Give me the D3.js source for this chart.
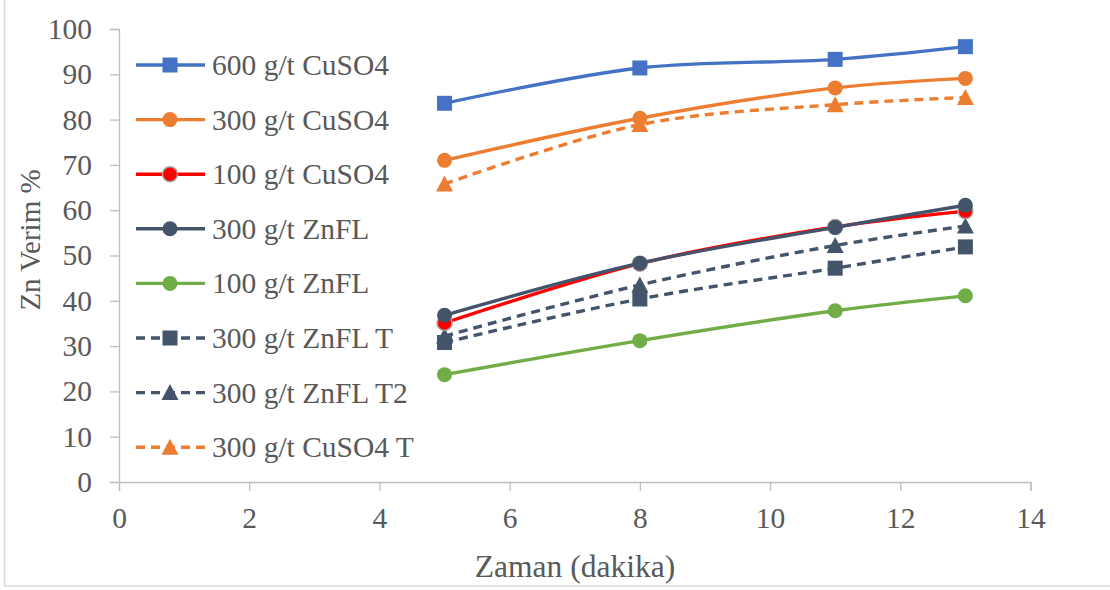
<!DOCTYPE html>
<html>
<head>
<meta charset="utf-8">
<script src="https://cdn.jsdelivr.net/npm/d3@7"></script>
<style>
  html, body { margin: 0; padding: 0; background: #fff; }
  svg { display: block; }
  text { font-family: "Liberation Serif", "Times New Roman", "DejaVu Serif", serif; fill: #595959; }
</style>
</head>
<body>
<svg id="chart" width="1110" height="590" font-family="Liberation Serif"></svg>
<script>
// Flotation time (minutes) and Zn recovery (%) for each reagent dosage
const times = [5, 8, 11, 13];
const xTicks = [0, 2, 4, 6, 8, 10, 12, 14];
const yTicks = [0, 10, 20, 30, 40, 50, 60, 70, 80, 90, 100];

const cuso4_600 = [83.6, 91.4, 93.3, 96.1];
const cuso4_300 = [71.0, 80.3, 87.0, 89.1];
const cuso4_100 = [35.1, 48.2, 56.3, 59.8];
const znfl_300 = [36.8, 48.3, 56.2, 61.1];
const znfl_100 = [23.7, 31.2, 37.8, 41.1];
const znfl_300_T = [30.8, 40.4, 47.2, 51.9];
const znfl_300_T2 = [32.2, 43.5, 52.2, 56.5];
const cuso4_300_T = [65.8, 78.9, 83.3, 84.9];

const seriesNames = [
  "600 g/t CuSO4", "300 g/t CuSO4", "100 g/t CuSO4", "300 g/t ZnFL",
  "100 g/t ZnFL", "300 g/t ZnFL T", "300 g/t ZnFL T2", "300 g/t CuSO4 T"
];

const series = [
  { name: seriesNames[0], values: cuso4_600, color: "#4472C4", dash: null, marker: "square", stroke: null },
  { name: seriesNames[1], values: cuso4_300, color: "#ED7D31", dash: null, marker: "circle", stroke: null },
  { name: seriesNames[2], values: cuso4_100, color: "#FF0000", dash: null, marker: "circle", stroke: "#A5A5A5" },
  { name: seriesNames[3], values: znfl_300, color: "#44546A", dash: null, marker: "circle", stroke: null },
  { name: seriesNames[4], values: znfl_100, color: "#70AD47", dash: null, marker: "circle", stroke: null },
  { name: seriesNames[5], values: znfl_300_T, color: "#44546A", dash: "9,6", marker: "square", stroke: null },
  { name: seriesNames[6], values: znfl_300_T2, color: "#44546A", dash: "9,6", marker: "triangle", stroke: null },
  { name: seriesNames[7], values: cuso4_300_T, color: "#ED7D31", dash: "9,6", marker: "triangle", stroke: null }
];

// Draw order: later series sit on top
const drawOrder = [7, 6, 5, 4, 2, 3, 1, 0];

const svg = d3.select("#chart");
const fontStack = "'Liberation Serif', 'Times New Roman', 'DejaVu Serif', serif";

// Chart-area frame
svg.append("rect")
  .attr("x", 4.5).attr("y", -2)
  .attr("width", 1120).attr("height", 588)
  .attr("fill", "none").attr("stroke", "#D9D9D9").attr("stroke-width", 1.5);

const x = d3.scaleLinear().domain([0, 14]).range([119, 1030.5]);
const y = d3.scaleLinear().domain([0, 100]).range([482, 29]);

const axisColor = "#BFBFBF";
const fontSize = 29.5;

// Y axis
const yAxis = svg.append("g")
  .attr("transform", `translate(${x(0)},0)`)
  .call(d3.axisLeft(y).tickValues(yTicks).tickSize(9).tickPadding(18));
yAxis.attr("font-family", fontStack);
yAxis.select(".domain").attr("stroke", axisColor).attr("stroke-width", 1.3);
yAxis.selectAll(".tick line").attr("stroke", axisColor).attr("stroke-width", 1.3);
yAxis.selectAll(".tick text")
  .attr("font-size", fontSize).attr("fill", "#595959")
  .attr("font-family", fontStack);

// X axis
const xAxis = svg.append("g")
  .attr("transform", `translate(0,${y(0)})`)
  .call(d3.axisBottom(x).tickValues(xTicks).tickSize(9).tickPadding(16));
xAxis.attr("font-family", fontStack);
xAxis.select(".domain").attr("stroke", axisColor).attr("stroke-width", 1.3);
xAxis.selectAll(".tick line").attr("stroke", axisColor).attr("stroke-width", 1.3);
xAxis.selectAll(".tick text")
  .attr("font-size", fontSize).attr("fill", "#595959")
  .attr("font-family", fontStack);

// Axis titles
svg.append("text")
  .attr("x", 575).attr("y", 577)
  .attr("text-anchor", "middle")
  .attr("font-size", 31.5)
  .attr("font-family", fontStack)
  .text("Zaman (dakika)");

svg.append("text")
  .attr("transform", `translate(40,${240}) rotate(-90)`)
  .attr("text-anchor", "middle")
  .attr("font-size", 29)
  .attr("font-family", fontStack)
  .text("Zn Verim %");

// Marker shapes
const markerSize = 15;
function drawMarker(g, type, cx, cy, s) {
  let m;
  if (type === "square") {
    m = g.append("rect")
      .attr("x", cx - markerSize / 2).attr("y", cy - markerSize / 2)
      .attr("width", markerSize).attr("height", markerSize);
  } else if (type === "circle") {
    m = g.append("circle").attr("cx", cx).attr("cy", cy).attr("r", markerSize / 2);
  } else {
    const h = markerSize;
    m = g.append("path")
      .attr("d", `M${cx},${cy - h / 2 - 1} L${cx + h / 2 + 1},${cy + h / 2} L${cx - h / 2 - 1},${cy + h / 2} Z`);
  }
  m.attr("fill", s.color);
  if (s.stroke) m.attr("stroke", s.stroke).attr("stroke-width", 1.5);
  return m;
}

const line = d3.line()
  .x((d, i) => x(times[i]))
  .y(d => y(d))
  .curve(d3.curveCatmullRom.alpha(0.5));

const plot = svg.append("g");
drawOrder.forEach(k => {
  const s = series[k];
  const g = plot.append("g");
  g.append("path")
    .datum(s.values)
    .attr("d", line)
    .attr("fill", "none")
    .attr("stroke", s.color)
    .attr("stroke-width", 3.4)
    .attr("stroke-dasharray", s.dash)
    .attr("stroke-linecap", s.dash ? "butt" : "round");
  s.values.forEach((v, i) => drawMarker(g, s.marker, x(times[i]), y(v), s));
});

// Legend
const legend = svg.append("g");
const legendTop = 65, legendStep = 54.6;
series.forEach((s, i) => {
  const ly = legendTop + i * legendStep;
  const g = legend.append("g");
  g.append("line")
    .attr("x1", 136).attr("x2", 205)
    .attr("y1", ly).attr("y2", ly)
    .attr("stroke", s.color).attr("stroke-width", 3.4)
    .attr("stroke-dasharray", s.dash ? "9,6" : null);
  drawMarker(g, s.marker, 170, ly, s);
  g.append("text")
    .attr("x", 212).attr("y", ly + 10)
    .attr("font-size", fontSize)
    .attr("font-family", fontStack)
    .text(s.name);
});
</script>
</body>
</html>
